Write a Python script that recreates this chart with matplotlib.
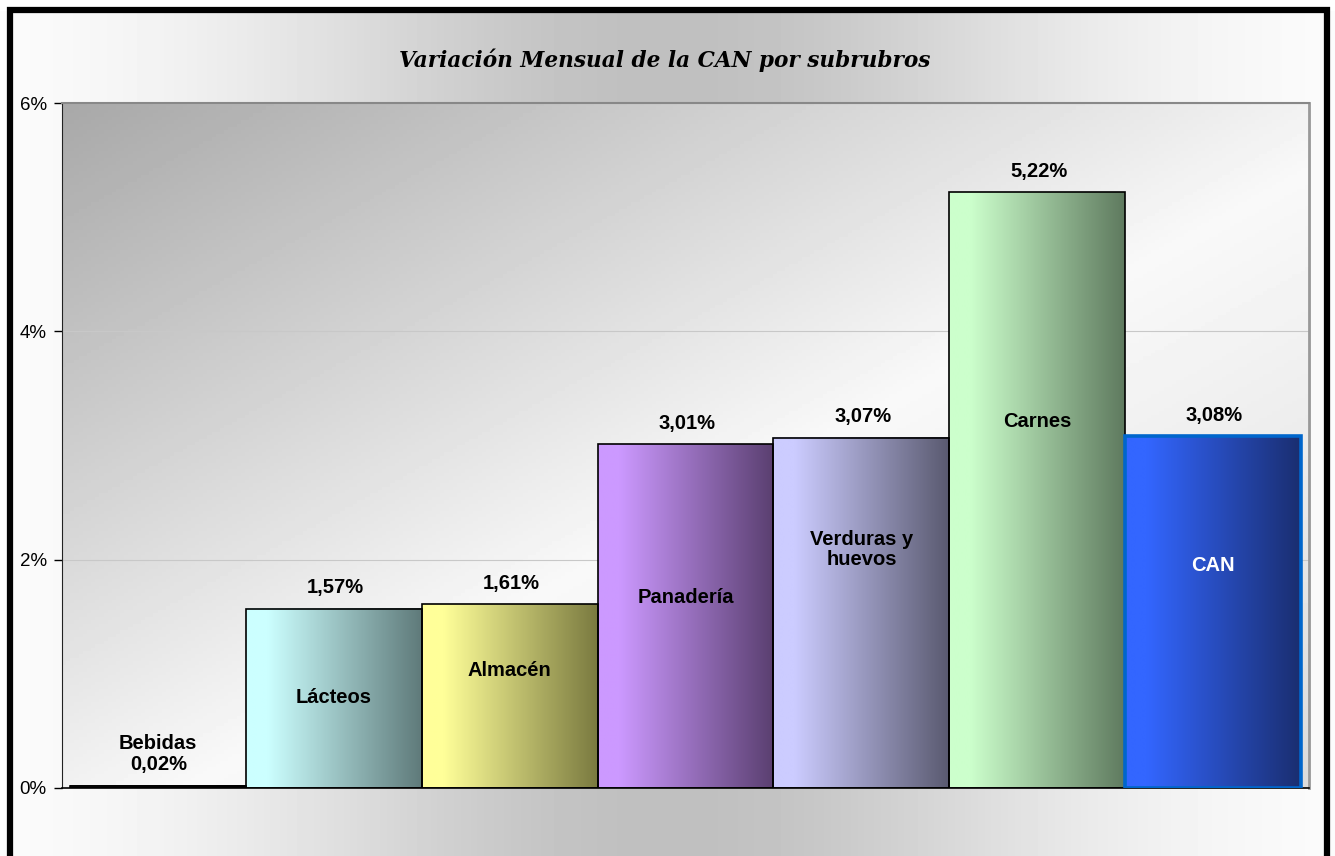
import numpy as np
import matplotlib
matplotlib.use("Agg")
import matplotlib.pyplot as plt
from matplotlib.colors import to_rgb
from matplotlib.patches import Rectangle
from matplotlib.ticker import FuncFormatter

# data
categories = ["Bebidas", "Lácteos", "Almacén", "Panadería",
              "Verduras y\nhuevos", "Carnes", "CAN"]
values = [0.02, 1.57, 1.61, 3.01, 3.07, 5.22, 3.08]
y_ticks = [0, 2, 4, 6]
title = "Variación Mensual de la CAN por subrubros"

# styling
light_cols = ["#202020", "#ccffff", "#ffff99", "#cc99ff", "#ccccff", "#ccffcc", "#3366ff"]
dark_cols = ["#000000", "#5f7a7a", "#7a7a40", "#5a3f70", "#5a5a70", "#5f7a5f", "#1a2e70"]
edge_cols = ["black"] * 6 + ["#0066cc"]
edge_widths = [1.2] * 6 + [2.6]
name_pos = [0.39, 0.79, 1.03, 1.67, 2.09, 3.21, 1.95]
name_cols = ["black"] * 6 + ["white"]

W, H = 1335, 856
fig = plt.figure(figsize=(W / 100, H / 100), dpi=100)
fig.patch.set_facecolor("white")

# figure background: white -> gray -> white, horizontally
bg = fig.add_axes([0, 0, 1, 1], zorder=-10)
u = np.linspace(0, 1, 400)
g = 1 - 0.25 * np.exp(-((u - 0.5) / 0.3) ** 2)
bg.imshow(np.tile(g, (2, 1)), cmap="gray", vmin=0, vmax=1, aspect="auto",
          extent=[0, 1, 0, 1])
bg.fill_between([0, 1], 0.988, 1, color="white", zorder=2)
bg.set_xlim(0, 1)
bg.set_ylim(0, 1)
bg.axis("off")

fig.patches.append(Rectangle((9.5 / W, -0.05), (1327 - 9.5) / W, 1.05 - 10 / H,
                             transform=fig.transFigure, fill=False,
                             edgecolor="black", linewidth=4.5, zorder=5))

ax = fig.add_axes([62 / W, 1 - 788 / H, (1309 - 62) / W, (788 - 103) / H])
ax.set_facecolor("none")

# plot-area background: dark top-left corner, lighter elsewhere
uu, vv = np.meshgrid(np.linspace(0, 1, 300), np.linspace(0, 1, 200))
s = (uu + vv) / 2
shade = np.interp(s, [0, 0.55, 1.0], [168 / 255, 0.975, 0.86])
ax.imshow(shade, cmap="gray", vmin=0, vmax=1, aspect="auto",
          extent=[0, 1, 0, 1], transform=ax.transAxes, zorder=0)

x = np.arange(len(categories))
bars = ax.bar(x, values, width=1.0, color="none", edgecolor=edge_cols,
              linewidth=edge_widths, zorder=3)

for i, b in enumerate(bars):
    x0, w, h = b.get_x(), b.get_width(), b.get_height()
    c0, c1 = np.array(to_rgb(light_cols[i])), np.array(to_rgb(dark_cols[i]))
    t = np.clip((np.linspace(0, 1, 256) - 0.12) / 0.88, 0, 1)
    grad = c0[None, :] * (1 - t[:, None]) + c1[None, :] * t[:, None]
    ax.imshow(grad[None, :, :], aspect="auto", extent=[x0, x0 + w, 0, h],
              zorder=2, interpolation="bilinear")
    ax.annotate(f"{values[i]:.2f}%".replace(".", ","), (x[i], h),
                xytext=(1, 15), textcoords="offset points", ha="center",
                va="center", fontsize=14.5, fontweight="bold",
                family="Liberation Sans")
    ax.text(x[i], name_pos[i], categories[i], ha="center", va="center",
            fontsize=14.5, fontweight="bold", family="Liberation Sans",
            color=name_cols[i], linespacing=1.1, zorder=4)

ax.set_xlim(-0.545, len(categories) - 0.455)
ax.set_ylim(0, 6)
ax.set_yticks(y_ticks)
ax.yaxis.set_major_formatter(FuncFormatter(lambda v, p: f"{v:.0f}%"))
ax.set_xticks([])
for lbl in ax.get_yticklabels():
    lbl.set_family("Liberation Sans")
    lbl.set_fontsize(13.5)
ax.tick_params(axis="y", length=6, width=1, pad=5)
ax.yaxis.grid(True, color="#c8c8c8", linewidth=0.8, zorder=1)
ax.set_axisbelow(True)
ax.spines["left"].set_color("#222222")
ax.spines["bottom"].set_color("black")
ax.spines["bottom"].set_linewidth(1.2)
ax.spines["top"].set_color("#888888")
ax.spines["top"].set_linewidth(1.5)
ax.spines["right"].set_color("#999999")
ax.spines["right"].set_linewidth(2)

fig.text(0.498, 1 - 60 / H, title, ha="center", va="center", fontsize=15.6,
         fontweight="bold", style="italic", family="DejaVu Serif")

fig.savefig("out.png", dpi=100)
